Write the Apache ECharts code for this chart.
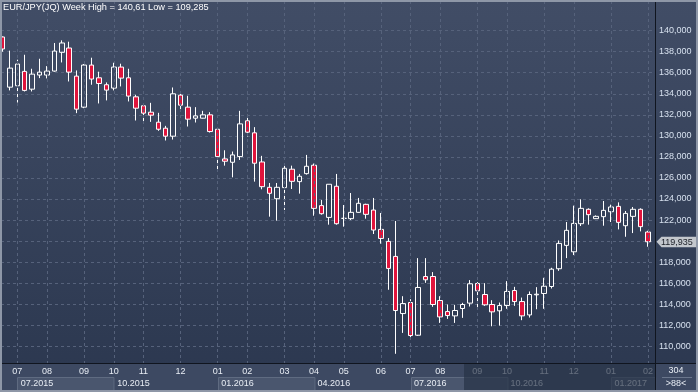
<!DOCTYPE html>
<html>
<head>
<meta charset="utf-8">
<script src="https://cdn.jsdelivr.net/npm/echarts@6/dist/echarts.min.js"></script>
<style>html,body{margin:0;padding:0;background:#2c3850}#c{width:698px;height:392px}</style>
</head>
<body>
<div id="c"></div>
<script>
var categories = [
'2015-06-22','2015-06-29','2015-07-06','2015-07-13','2015-07-20','2015-07-27','2015-08-03','2015-08-10','2015-08-17','2015-08-24',
'2015-08-31','2015-09-07','2015-09-14','2015-09-21','2015-09-28','2015-10-05','2015-10-12','2015-10-19','2015-10-26','2015-11-02',
'2015-11-09','2015-11-16','2015-11-23','2015-11-30','2015-12-07','2015-12-14','2015-12-21','2015-12-28','2015-12-31','2016-01-04',
'2016-01-11','2016-01-18','2016-01-25','2016-02-01','2016-02-08','2016-02-15','2016-02-22','2016-02-29','2016-03-07','2016-03-14',
'2016-03-21','2016-03-28','2016-04-04','2016-04-11','2016-04-18','2016-04-25','2016-05-02','2016-05-09','2016-05-16','2016-05-23',
'2016-05-30','2016-06-06','2016-06-13','2016-06-20','2016-06-27','2016-07-04','2016-07-11','2016-07-18','2016-07-25','2016-08-01',
'2016-08-08','2016-08-15','2016-08-22','2016-08-29','2016-09-05','2016-09-12','2016-09-19','2016-09-26','2016-10-03','2016-10-10',
'2016-10-17','2016-10-24','2016-10-31','2016-11-07','2016-11-14','2016-11-21','2016-11-28','2016-12-05','2016-12-12','2016-12-19',
'2016-12-26','2016-12-30','2017-01-02','2017-01-09','2017-01-16','2017-01-23','2017-01-30','2017-02-06'];

var opens = [139.4,134.63,134.76,136.13,134.44,135.78,135.78,136.16,137.94,138.35,
135.68,132.73,136.73,135.52,134.86,134.54,136.54,135.52,133.71,132.86,
132.25,131.30,130.73,129.97,133.87,132.73,131.68,131.68,132.0,130.63,
127.81,127.49,128.03,131.43,130.29,127.52,125.11,124.03,125.08,126.83,
125.65,126.41,127.21,123.37,122.25,125.21,122.16,122.13,122.73,123.49,
122.95,121.11,119.97,118.54,113.11,114.16,111.05,116.63,116.63,114.35,
113.30,112.89,113.59,114.10,115.97,114.92,113.97,113.37,113.87,115.30,
114.25,112.98,114.89,115.02,115.68,117.37,119.59,118.98,121.65,123.02,
122.13,122.32,122.79,123.30,121.46,122.35,123.02,120.86];
var closes = [138.26,136.44,136.83,134.32,135.87,136.06,136.16,138.06,138.83,136.06,
132.54,136.73,135.40,134.98,134.35,136.54,135.49,133.78,132.63,132.16,
131.97,130.63,129.97,134.0,132.92,131.59,131.90,132.0,130.41,128.03,
127.59,128.19,131.14,130.35,127.40,125.17,124.54,125.11,126.92,125.68,
126.16,127.11,123.11,122.60,125.40,121.65,122.16,122.73,123.59,122.54,
121.05,120.25,117.40,113.40,114.06,111.02,115.59,116.32,113.97,112.79,
112.92,113.40,113.97,115.94,115.27,113.94,113.27,113.87,115.21,114.25,
112.89,114.92,114.95,115.71,117.33,119.78,121.02,121.68,123.11,122.51,
122.35,122.92,123.24,121.78,122.63,123.02,121.37,119.935];
var lows = [138.0,134.32,133.17,134.22,134.22,135.49,135.46,136.10,136.98,135.17,
132.16,132.63,134.86,133.08,133.37,134.32,134.70,133.27,131.46,131.33,
131.33,130.48,129.56,129.65,132.51,130.89,131.27,131.65,130.32,126.70,
127.17,126.06,127.71,129.94,125.65,124.92,122.32,121.94,122.95,124.95,
124.51,126.32,122.41,122.51,121.56,121.56,121.37,122.0,122.70,122.13,
120.67,119.75,115.37,109.285,111.27,110.73,110.98,116.03,113.75,112.22,
112.60,112.22,112.70,113.78,113.68,113.84,111.90,111.97,113.56,113.84,
112.48,112.73,113.52,113.56,115.49,117.17,118.38,118.67,121.43,121.56,
122.1,121.46,121.81,121.11,120.41,120.76,120.92,119.46];
var highs = [139.45,138.10,137.24,137.71,136.38,137.33,136.63,138.83,139.08,138.95,
136.22,136.83,137.43,136.10,135.08,136.95,136.86,136.38,133.90,133.11,
133.14,132.19,130.95,134.60,134.19,133.81,132.73,132.38,132.25,130.63,
128.63,128.51,132.38,132.0,130.83,128.10,125.52,125.52,127.21,127.17,
126.38,128.19,127.37,123.90,125.40,126.38,123.43,124.57,124.10,123.55,
124.10,122.67,120.29,121.91,114.76,114.48,118.38,118.38,117.05,114.76,
113.97,113.94,114.13,116.29,116.10,116.0,114.38,114.16,116.19,115.65,
114.63,115.21,115.62,116.51,117.46,120.06,121.81,123.37,123.97,123.11,
122.44,123.81,123.46,123.68,122.86,123.24,123.11,120.98];

var titleText = 'EUR/JPY(JQ) Week High = 140,61 Low = 109,285';
var lastPrice = 119.935;
var barCountTotal = '304';
var barCountVisible = '>88<';
var yTickMin = 108, yTickMax = 140, yTickStep = 2;

var FONT = '"Liberation Sans", Arial, sans-serif';

// month-start indices
var monthStart = {};
for (var i = 1; i < categories.length; i++) {
  if (categories[i - 1].slice(0, 7) !== categories[i].slice(0, 7)) monthStart[i] = true;
}
var candleData = categories.map(function (d, i) { return [opens[i], closes[i], lows[i], highs[i]]; });

var chart = echarts.init(document.getElementById('c'), null, { renderer: 'canvas' });

// vertical scale: 10.52 px per unit; price 142.82 at y=1, 108.41 at y=363
var PXU = 10.52;
var topMax = 142.82;
var grid1Top = 1 + (topMax - yTickMax) * PXU;
var grid1Bottom = 392 - (1 + (topMax - yTickMin) * PXU);

var option = {
  animation: false,
  backgroundColor: { type: 'linear', x: 0, y: 0, x2: 0, y2: 1, colorStops: [{ offset: 0, color: '#414d66' }, { offset: 1, color: '#2b374f' }] },
  title: { text: titleText, left: 3, top: 3, padding: 0, textStyle: { color: '#ffffff', fontSize: 9.2, fontWeight: 'normal', fontFamily: FONT } },
  grid: [
    { left: 2.46, right: 50, top: 1, bottom: 29 },
    { left: 1, right: 43, top: grid1Top, bottom: grid1Bottom }
  ],
  xAxis: [
    { type: 'category', gridIndex: 0, data: categories, boundaryGap: false, z: 3,
      axisLine: { show: false }, axisTick: { show: false },
      axisLabel: { interval: function (idx) { return !!monthStart[idx]; }, formatter: function (v) { return v.slice(5, 7); },
        color: '#e8edf4', fontSize: 9, fontFamily: FONT, margin: 4 },
      splitLine: { show: true, interval: function (idx) { return !!monthStart[idx]; }, lineStyle: { color: '#56627b', type: [3, 3], width: 1 } } },
    { type: 'value', gridIndex: 1, show: false, min: 0, max: 1 }
  ],
  yAxis: [
    { type: 'value', gridIndex: 0, min: 108.41, max: topMax, show: false, splitLine: { show: false } },
    { type: 'value', gridIndex: 1, position: 'right', min: yTickMin, max: yTickMax, interval: yTickStep, z: 0,
      axisLine: { show: false }, axisTick: { show: false },
      axisLabel: { color: '#d6e0ee', fontSize: 9, fontFamily: FONT, margin: 4, align: 'left', showMaxLabel: true,
        formatter: function (v) { if (v <= yTickMin) return ''; return v.toFixed(3).replace('.', ','); } },
      splitLine: { show: true, lineStyle: { color: '#56627b', type: [3, 3], width: 1 } } }
  ],
  series: [{
    type: 'candlestick', xAxisIndex: 0, yAxisIndex: 0, data: candleData, barWidth: 5,
    itemStyle: { color: 'rgba(0,0,0,0)', color0: '#e0143c', borderColor: '#ffffff', borderColor0: '#ffffff', borderColorDoji: '#ffffff', borderWidth: 1 }
  }]
};
chart.setOption(option);

function px(i) { return chart.convertToPixel({ xAxisIndex: 0 }, i); }
var yTag = chart.convertToPixel({ yAxisIndex: 0 }, lastPrice);

var g = [];
// bottom band
g.push({ type: 'rect', z: 1, shape: { x: 0, y: 363, width: 698, height: 29 }, style: { fill: '#3d4962' } });
// quarter boxes and labels
var quarters = [];
for (var k = 0; k < categories.length; k++) {
  if (monthStart[k]) { var mm = +categories[k].slice(5, 7); if (mm % 3 === 1) quarters.push(k); }
}
quarters.forEach(function (qi, n) {
  var x0 = px(qi);
  var x1 = n + 1 < quarters.length ? px(quarters[n + 1]) : 655;
  if (n % 2 === 0) {
    g.push({ type: 'rect', z: 2, shape: { x: Math.round(x0) + 0.5, y: 377.5, width: x1 - x0, height: 13 }, style: { fill: '#4a566e', stroke: '#5f6b81', lineWidth: 1 } });
  }
  var lbl = categories[qi].slice(5, 7) + '.' + categories[qi].slice(0, 4);
  g.push({ type: 'text', z: 3, x: x0 + 3.5, y: 383.5, style: { text: lbl, fill: '#e8edf4', font: '9px ' + FONT, textVerticalAlign: 'middle', verticalAlign: 'middle' } });
});
// dimming overlay (scroll area)
var ovX = px(62) + 1.5;
g.push({ type: 'rect', z: 4, shape: { x: ovX, y: 363, width: 655 - ovX, height: 29 }, style: { fill: 'rgba(38,50,70,0.68)' } });
// separators
g.push({ type: 'line', z: 5, shape: { x1: 0, y1: 363.5, x2: 698, y2: 363.5 }, style: { stroke: '#10151f', lineWidth: 1 } });
g.push({ type: 'line', z: 5, shape: { x1: 655.5, y1: 0, x2: 655.5, y2: 392 }, style: { stroke: '#10151f', lineWidth: 1 } });
// bottom-right cell
g.push({ type: 'text', z: 5, x: 676, y: 371, style: { text: barCountTotal, fill: '#e8edf4', font: '9px ' + FONT, textAlign: 'center', textVerticalAlign: 'middle', align: 'center', verticalAlign: 'middle' } });
g.push({ type: 'line', z: 5, shape: { x1: 662, y1: 377.5, x2: 692, y2: 377.5 }, style: { stroke: '#6a768c', lineWidth: 1 } });
g.push({ type: 'text', z: 5, x: 676, y: 384, style: { text: barCountVisible, fill: '#e8edf4', font: '9px ' + FONT, textAlign: 'center', textVerticalAlign: 'middle', align: 'center', verticalAlign: 'middle' } });
// last price tag
g.push({ type: 'polygon', z: 5, shape: { points: [[656.5, yTag], [661.5, yTag - 5], [696, yTag - 5], [696, yTag + 5.5], [661.5, yTag + 5.5]] }, style: { fill: '#c3c7cd' } });
g.push({ type: 'text', z: 6, x: 661, y: yTag + 0.5, style: { text: lastPrice.toFixed(3).replace('.', ','), fill: '#1a1e26', font: '9px ' + FONT, textVerticalAlign: 'middle', verticalAlign: 'middle' } });
// outer frame
g.push({ type: 'rect', z: 7, shape: { x: 1, y: 1, width: 696, height: 390 }, style: { fill: 'none', stroke: '#8e97a7', lineWidth: 2 } });

chart.setOption({ graphic: g });
</script>
</body>
</html>
